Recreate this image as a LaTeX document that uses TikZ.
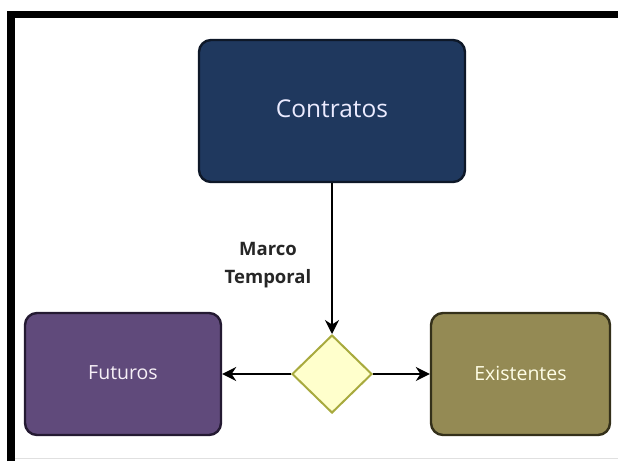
\documentclass[tikz,border=0pt]{standalone}
\usepackage{fontspec}
\setmainfont{Open Sans}
\usepackage{tikz}
\usetikzlibrary{arrows,arrows.meta}
\usetikzlibrary{shapes,shapes.geometric}
\usepackage{xcolor}
\definecolor{contratosblue}{RGB}{31,56,94}
\definecolor{contratosline}{RGB}{14,24,40}
\definecolor{futurospurple}{RGB}{96,74,123}
\definecolor{futurosline}{RGB}{36,26,50}
\definecolor{existolive}{RGB}{148,138,84}
\definecolor{existline}{RGB}{52,48,26}
\definecolor{gatefill}{RGB}{255,255,204}
\definecolor{gateline}{RGB}{168,170,62}
\tikzstyle{roundbox}=[rectangle, rounded corners=12pt, line width=2.4pt, inner sep=0pt]
\tikzstyle{gate}=[diamond, fill=gatefill, draw=gateline, line width=2pt, minimum width=80pt, minimum height=78pt, inner sep=0pt]
\tikzstyle{flow}=[line width=1.5pt, -{Stealth[length=14pt,width=14pt]}]

\begin{document}
\begin{tikzpicture}[x=1pt,y=-1pt]
	\useasboundingbox (0,0) rectangle (618,461);
	\draw[black!12, line width=1pt] (15,458) -- (618,458);
	\draw[line width=7.5pt] (11,461) -- (11,14.5) -- (618,14.5);
	\node[roundbox, fill=contratosblue, draw=contratosline, minimum width=266pt, minimum height=142pt] (contratos) at (332,111) {};
	\node[text=blue!8!white, font=\fontsize{24.5}{29}\selectfont] at (332,109) {Contratos};
	\node[roundbox, fill=futurospurple, draw=futurosline, minimum width=196pt, minimum height=122pt] (futuros) at (123,374) {};
	\node[text=violet!6!white, font=\fontsize{19.5}{24}\selectfont] at (123,373) {Futuros};
	\node[roundbox, fill=existolive, draw=existline, minimum width=179pt, minimum height=122pt] (existentes) at (520.5,374) {};
	\node[text=yellow!10!white, font=\fontsize{19.5}{24}\selectfont] at (520.5,373) {Existentes};
	\node[gate] (plazo) at (332,374) {};
	\node[align=center, font=\bfseries\fontsize{18.5}{28}\selectfont, text=black!85] (marco) at (268,265) {Marco\\Temporal};
	\draw[flow] (contratos.south) -- (plazo.north);
	\draw[flow] (plazo.west) -- (futuros.east);
	\draw[flow] (plazo.east) -- (existentes.west);
\end{tikzpicture}
\end{document}
